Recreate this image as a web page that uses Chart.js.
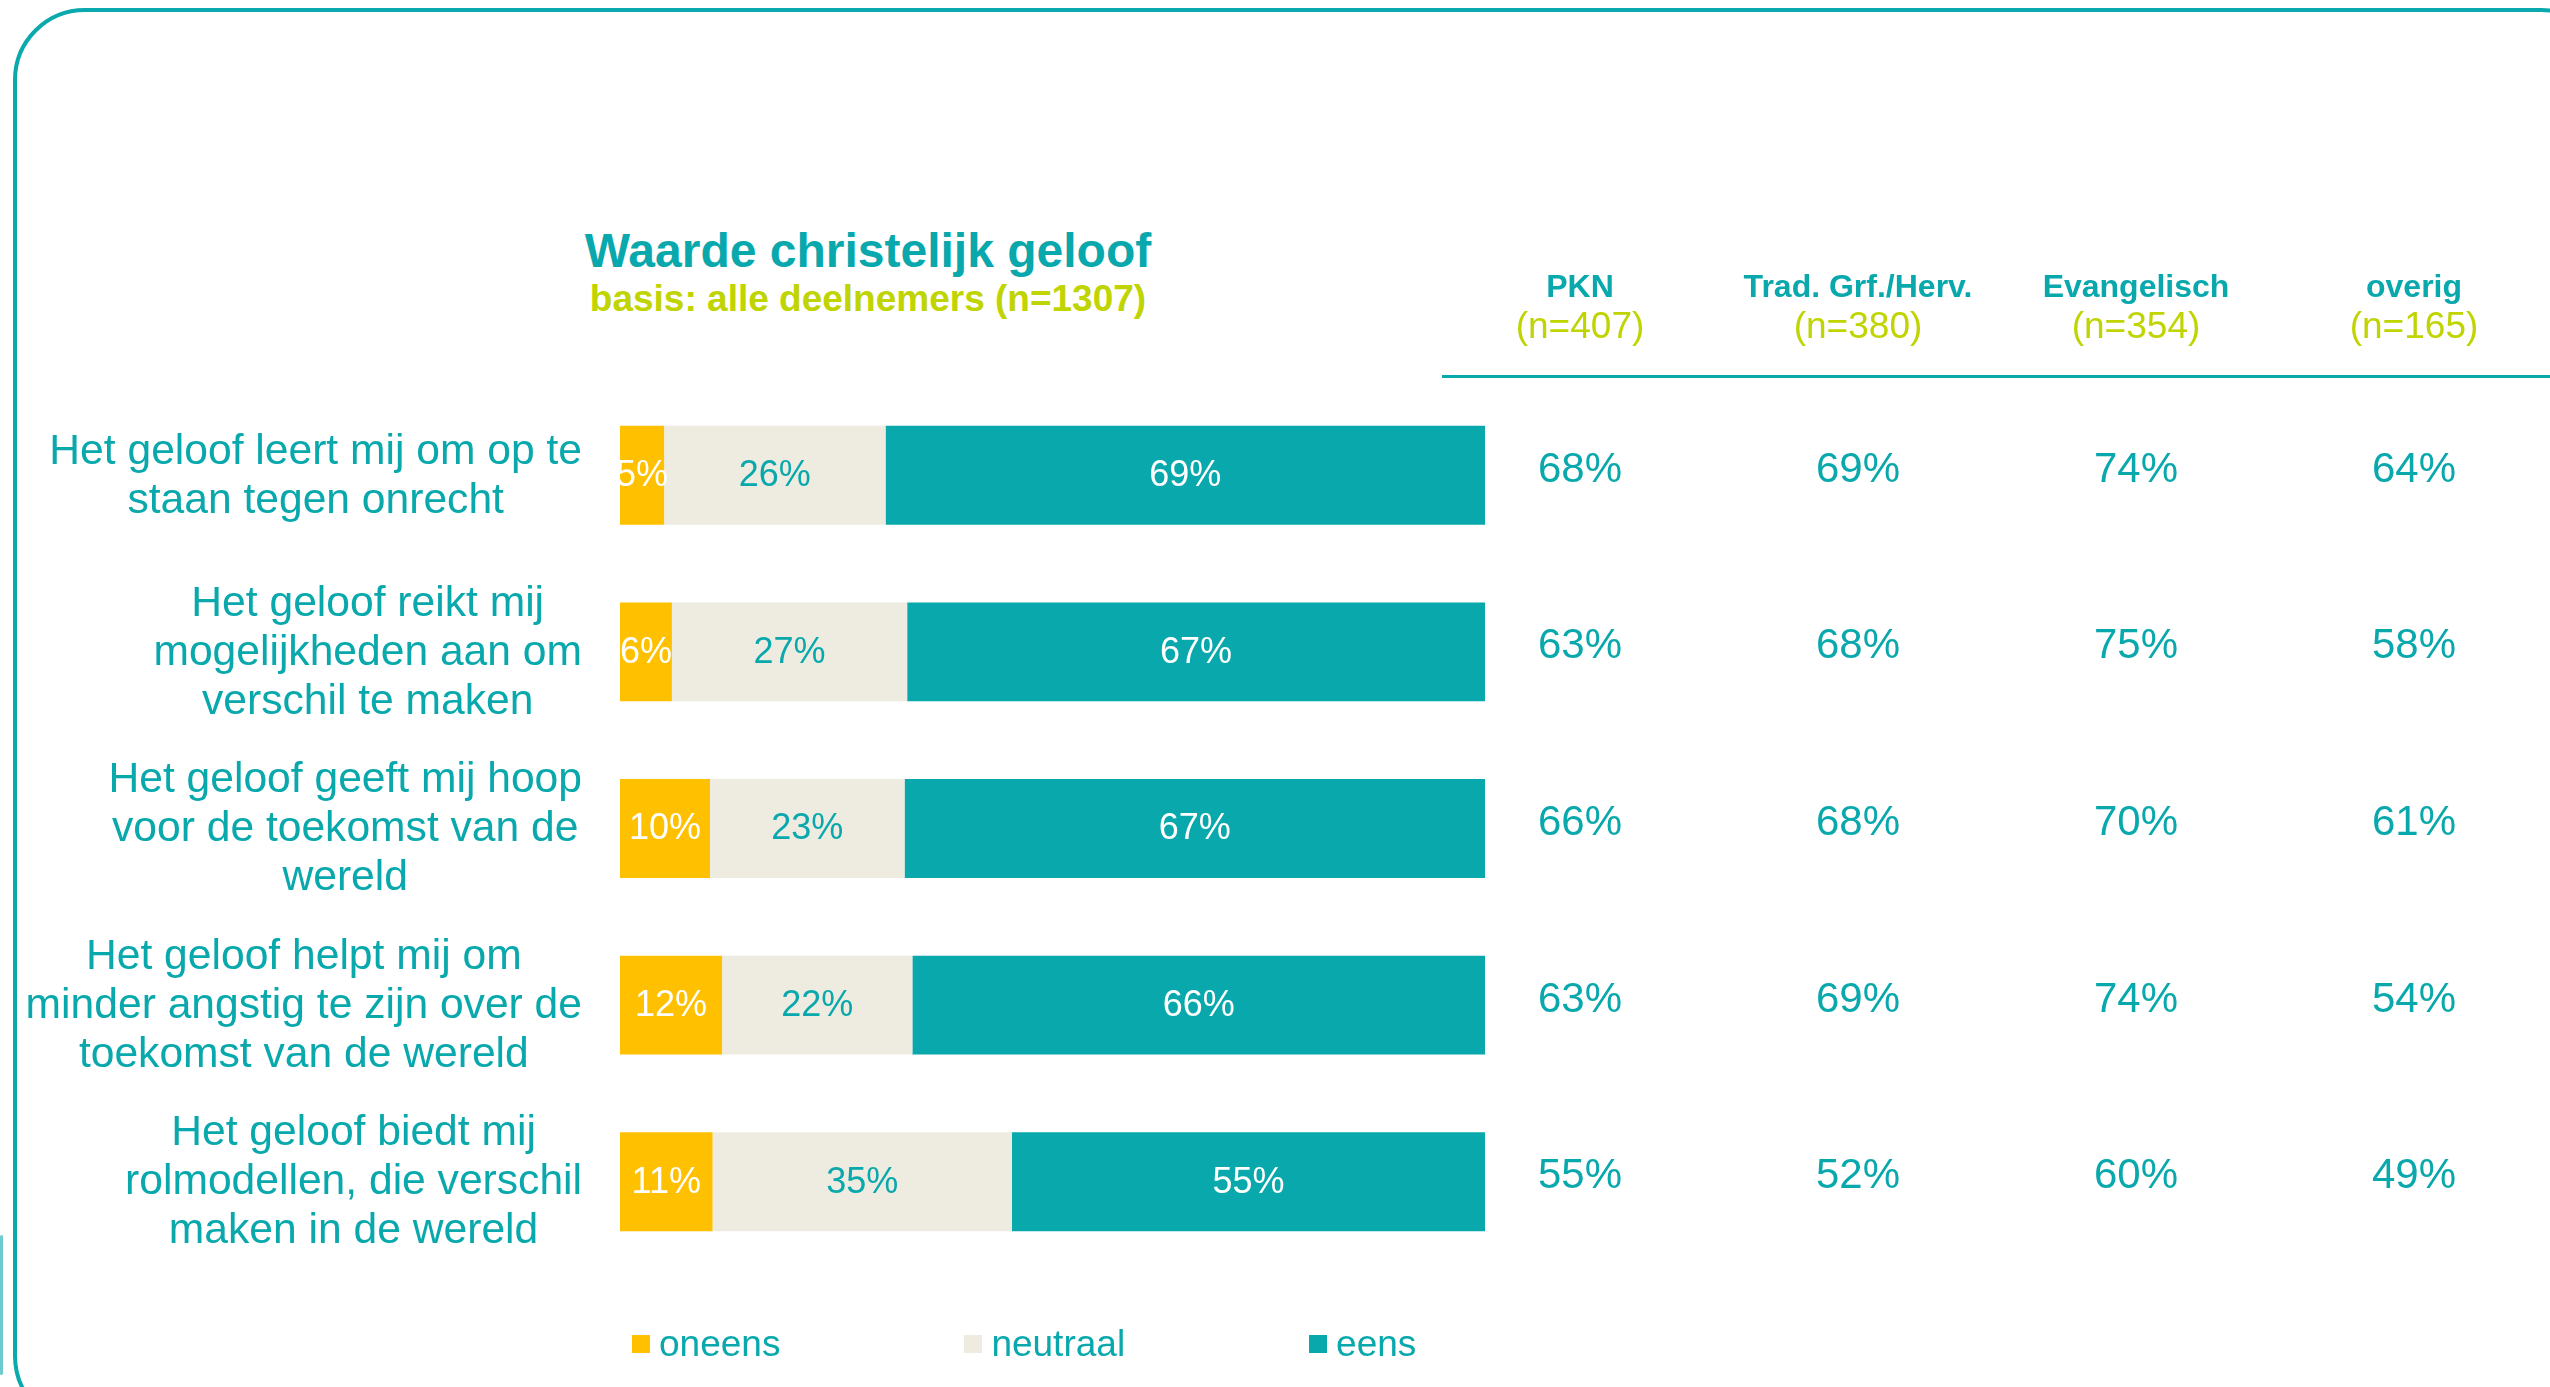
<!DOCTYPE html>
<html>
<head>
<meta charset="utf-8">
<script src="https://cdn.jsdelivr.net/npm/chart.js@4.4.0/dist/chart.umd.min.js"></script>
<style>
  html, body { margin: 0; padding: 0; background: #fff; }
  body {
    width: 2550px; height: 1387px; position: relative; overflow: hidden;
    font-family: "Liberation Sans", Arial, sans-serif;
  }
  .frame {
    position: absolute; left: 13px; top: 8px; width: 2600px; height: 1420px;
    border: 4px solid #0aa9ad; border-radius: 72px; box-sizing: border-box;
  }
  .frame-bit {
    position: absolute; left: 0; top: 1235px; width: 3px; height: 140px;
    background: #0aa9ad; border-radius: 2px; opacity: 0.6;
  }
  .title {
    position: absolute; left: 868px; top: 227px; transform: translateX(-50%);
    font-size: 48px; line-height: 1; font-weight: bold; color: #08a8ac; white-space: nowrap;
  }
  .subtitle {
    position: absolute; left: 868px; top: 280px; transform: translateX(-50%);
    font-size: 37px; line-height: 1; font-weight: bold; color: #bfd400; white-space: nowrap;
  }
  #barChart { position: absolute; left: 0; top: 0; }
  #tableChart { position: absolute; left: 1441px; top: 0; }
  #legend {
    position: absolute; left: 632px; top: 1324px; display: flex; align-items: center;
    font-size: 37px; line-height: 40px; color: #08a8ac;
  }
  #legend .item { display: flex; align-items: center; margin-right: 184px; }
  #legend .box { width: 18px; height: 18px; margin-right: 9px; }
</style>
</head>
<body>
<div class="frame"></div>
<div class="frame-bit"></div>
<div class="title">Waarde christelijk geloof</div>
<div class="subtitle">basis: alle deelnemers (n=1307)</div>
<canvas id="barChart" width="1500" height="1387"></canvas>
<canvas id="tableChart" width="1112" height="1387"></canvas>
<div id="legend"></div>

<script>
        // Data
        const statements = [
            ['Het geloof leert mij om op te', 'staan tegen onrecht'],
            ['Het geloof reikt mij', 'mogelijkheden aan om', 'verschil te maken'],
            ['Het geloof geeft mij hoop', 'voor de toekomst van de', 'wereld'],
            ['Het geloof helpt mij om', 'minder angstig te zijn over de', 'toekomst van de wereld'],
            ['Het geloof biedt mij', 'rolmodellen, die verschil', 'maken in de wereld']
        ];
        const seriesNames = ['oneens', 'neutraal', 'eens'];
        const oneens = [5.1, 6.0, 10.4, 11.8, 10.7];
        const neutraal = [25.6, 27.2, 22.5, 22.0, 34.6];
        const eens = [69.3, 66.8, 67.1, 66.2, 54.7];

        const groups = ['PKN', 'Trad. Grf./Herv.', 'Evangelisch', 'overig'];
        const groupN = ['(n=407)', '(n=380)', '(n=354)', '(n=165)'];
        const pkn = [68, 63, 66, 63, 55];
        const trad = [69, 68, 68, 69, 52];
        const evangelisch = [74, 75, 70, 74, 60];
        const overig = [64, 58, 61, 54, 49];

        // Style
        const TEAL = '#08a8ac';
        const LIME = '#bfd400';
        const ORANGE = '#ffc000';
        const BEIGE = '#eeebe1';
        const FONT = '"Liberation Sans", Arial, sans-serif';
        const seriesColors = [ORANGE, BEIGE, TEAL];
        const labelColors = ['#ffffff', TEAL, '#ffffff'];
        const PAD_TOP = 387;
        const PAD_BOTTOM = 117;

        // Statement labels, each block right aligned, lines centred in it
        const statementLabels = {
            id: 'statementLabels',
            afterDraw(chart) {
                const ctx = chart.ctx;
                const y = chart.scales.y;
                const right = 582;
                const lineH = 49;
                ctx.save();
                ctx.font = '42.6px ' + FONT;
                ctx.fillStyle = TEAL;
                ctx.textAlign = 'center';
                ctx.textBaseline = 'middle';
                statements.forEach((lines, i) => {
                    const yc = y.getPixelForValue(i);
                    const w = Math.max(...lines.map(l => ctx.measureText(l).width));
                    const xc = right - w / 2;
                    lines.forEach((l, j) => {
                        ctx.fillText(l, xc, yc + 1 + (j - (lines.length - 1) / 2) * lineH);
                    });
                });
                ctx.restore();
            }
        };

        // Percentages inside the bars
        const barLabels = {
            id: 'barLabels',
            afterDatasetsDraw(chart) {
                const ctx = chart.ctx;
                const area = chart.chartArea;
                ctx.save();
                ctx.beginPath();
                ctx.rect(area.left, area.top, area.right - area.left, area.bottom - area.top);
                ctx.clip();
                ctx.font = '36px ' + FONT;
                ctx.textAlign = 'center';
                ctx.textBaseline = 'middle';
                chart.data.datasets.forEach((ds, di) => {
                    ctx.fillStyle = labelColors[di];
                    chart.getDatasetMeta(di).data.forEach((bar, i) => {
                        ctx.fillText(Math.round(ds.data[i]) + '%', (bar.x + bar.base) / 2, bar.y + 1);
                    });
                });
                ctx.restore();
            }
        };

        new Chart(document.getElementById('barChart'), {
            type: 'bar',
            data: {
                labels: statements,
                datasets: [oneens, neutraal, eens].map((vals, i) => ({
                    label: seriesNames[i],
                    data: vals,
                    backgroundColor: seriesColors[i],
                    borderWidth: 0,
                    barPercentage: 0.56,
                    categoryPercentage: 1
                }))
            },
            options: {
                indexAxis: 'y',
                responsive: false,
                animation: false,
                events: [],
                layout: { padding: { left: 620, right: 15, top: PAD_TOP, bottom: PAD_BOTTOM } },
                scales: {
                    x: { stacked: true, min: 0, max: 100, display: false },
                    y: { stacked: true, display: false }
                },
                plugins: { legend: { display: false }, tooltip: { enabled: false } }
            },
            plugins: [barLabels, statementLabels]
        });

        // Table with the per-group scores
        const tableText = {
            id: 'tableText',
            afterDatasetsDraw(chart) {
                const ctx = chart.ctx;
                const x = chart.scales.x;
                ctx.save();
                // header line
                ctx.fillStyle = TEAL;
                ctx.fillRect(1, 375, chart.width, 3);
                ctx.textAlign = 'center';
                ctx.textBaseline = 'alphabetic';
                groups.forEach((g, c) => {
                    const xc = x.getPixelForValue(c);
                    ctx.font = 'bold 32px ' + FONT;
                    ctx.fillStyle = TEAL;
                    ctx.fillText(g, xc, 297);
                    ctx.font = '37px ' + FONT;
                    ctx.fillStyle = LIME;
                    ctx.fillText(groupN[c], xc, 338);
                });
                // cells
                ctx.font = '42px ' + FONT;
                ctx.fillStyle = TEAL;
                ctx.textBaseline = 'middle';
                chart.data.datasets.forEach((ds, di) => {
                    chart.getDatasetMeta(di).data.forEach((pt, i) => {
                        ctx.fillText(ds.data[i].v + '%', pt.x, pt.y - 5);
                    });
                });
                ctx.restore();
            }
        };

        new Chart(document.getElementById('tableChart'), {
            type: 'scatter',
            data: {
                datasets: [pkn, trad, evangelisch, overig].map((vals, c) => ({
                    label: groups[c],
                    data: vals.map((v, i) => ({ x: groups[c], y: 'r' + i, v: v })),
                    pointRadius: 0
                }))
            },
            options: {
                responsive: false,
                animation: false,
                events: [],
                layout: { padding: { left: 0, right: 0, top: PAD_TOP, bottom: PAD_BOTTOM } },
                scales: {
                    x: { type: 'category', labels: groups, offset: true, display: false },
                    y: { type: 'category', labels: statements.map((s, i) => 'r' + i), offset: true, display: false }
                },
                plugins: { legend: { display: false }, tooltip: { enabled: false } }
            },
            plugins: [tableText]
        });

        // Legend
        const legend = document.getElementById('legend');
        seriesNames.forEach((name, i) => {
            const item = document.createElement('div');
            item.className = 'item';
            item.innerHTML = `<span class="box" style="background:${seriesColors[i]}"></span><span>${name}</span>`;
            legend.appendChild(item);
        });
</script>
</body>
</html>
